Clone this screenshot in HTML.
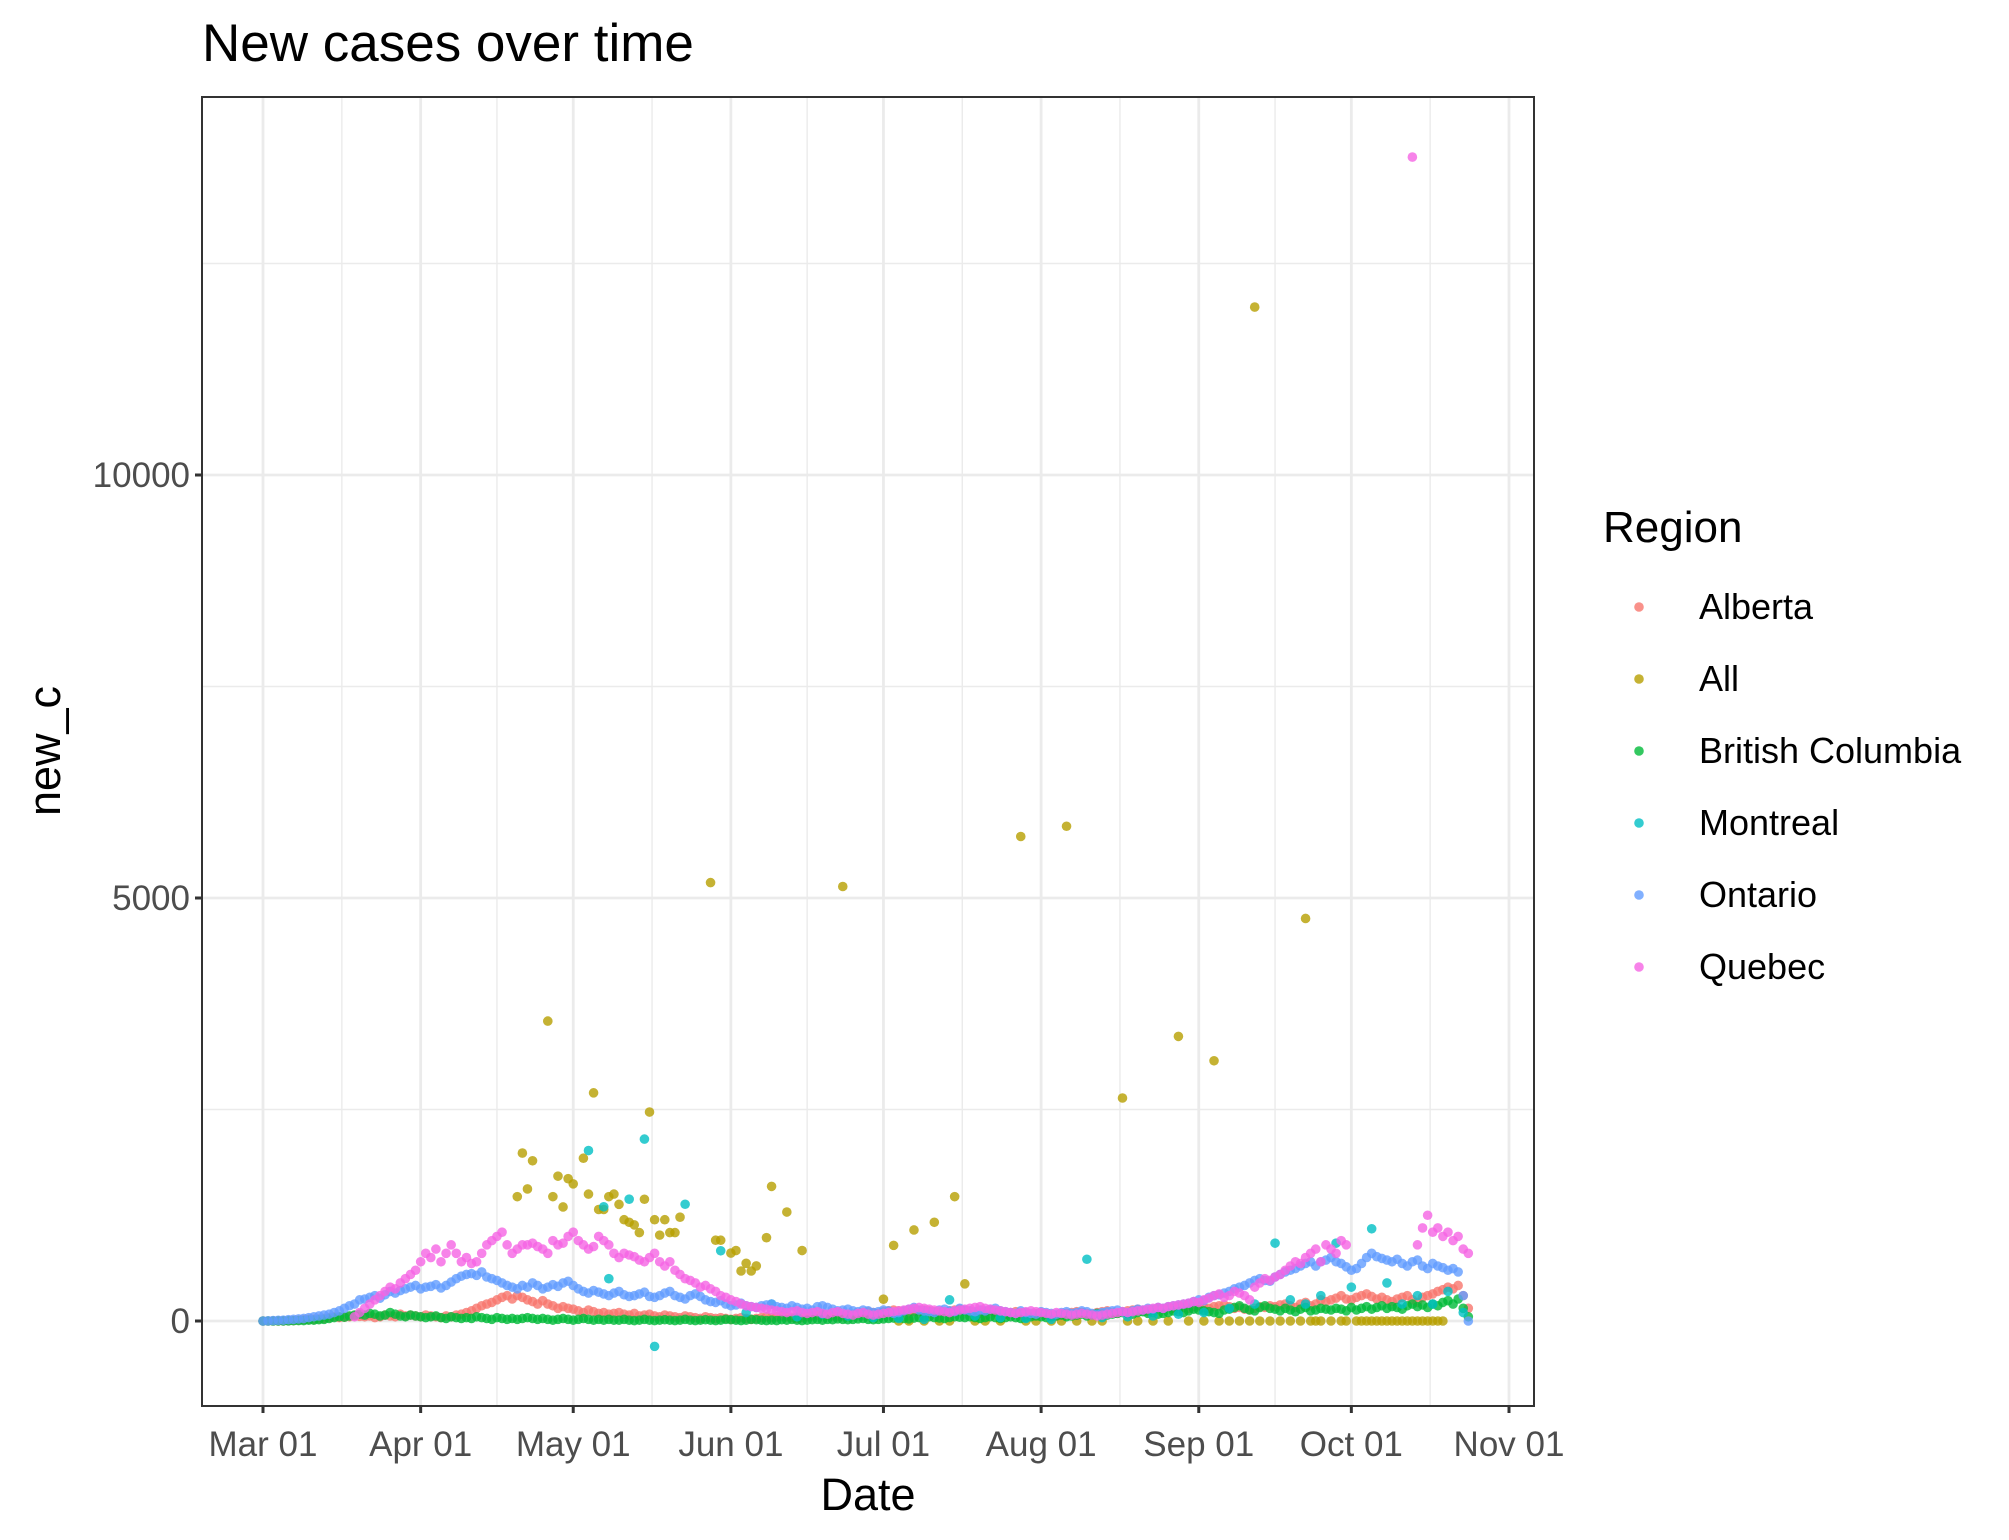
<!DOCTYPE html>
<html><head><meta charset="utf-8">
<style>
body{margin:0;background:#fff;}
svg{display:block;font-family:"Liberation Sans",Arial,sans-serif;}
</style></head>
<body>
<svg id="chart" width="2009" height="1540" viewBox="0 0 2009 1540">
<text x="202" y="61" font-size="53" fill="#000">New cases over time</text>
<g id="grid"></g>
<g id="pts"></g>
<rect x="202" y="97" width="1332" height="1309" fill="none" stroke="#333" stroke-width="2"/>
<g id="axes"></g>
<text x="868" y="1510" font-size="45" text-anchor="middle" fill="#000">Date</text>
<text transform="translate(60,751) rotate(-90)" font-size="45" text-anchor="middle" fill="#000">new_c</text>
<g id="legend">
<text x="1603" y="542" font-size="44" fill="#000">Region</text>
</g>
</svg>
<script>
const monthLabels=["Mar 01","Apr 01","May 01","Jun 01","Jul 01","Aug 01","Sep 01","Oct 01","Nov 01"];
const monthDays=[0,31,61,92,122,153,184,214,245];
const yTicks=[0,5000,10000];
const yMinor=[2500,7500,12500];
const regions=["Alberta","All","British Columbia","Montreal","Ontario","Quebec"];
const colors=["#F8766D","#B79F00","#00BA38","#00BFC4","#619CFF","#F564E3"];
const ontario=[0,2,5,8,10,15,20,25,30,40,50,60,70,80,100,120,150,180,200,250,260,280,300,270,310,350,330,360,380,400,420,380,400,410,430,390,420,460,500,530,550,560,540,580,520,500,480,450,420,400,380,420,400,450,420,380,400,430,410,450,470,420,380,350,330,360,340,320,300,330,350,310,290,300,320,340,290,280,300,330,350,300,280,260,300,320,290,250,230,220,240,200,180,190,210,180,170,160,180,190,200,170,160,150,180,160,140,150,130,170,180,160,140,120,130,140,120,110,130,120,100,110,130,120,90,100,120,140,160,130,120,110,100,130,140,120,110,150,130,120,110,130,120,140,150,120,110,100,90,120,100,90,80,110,100,90,80,100,110,90,100,120,110,90,80,100,110,120,130,110,100,120,140,130,150,140,160,150,170,180,190,200,210,230,250,240,280,300,310,330,350,380,400,420,450,480,500,480,470,520,550,580,600,620,650,680,700,650,700,720,750,700,680,640,600,620,680,750,800,760,740,720,700,730,680,650,700,720,650,620,680,650,630,600,620,580,300,0];
const quebecStart=18;
const quebec=[50,100,150,200,250,300,350,400,380,450,500,550,600,700,800,750,850,700,800,900,800,700,750,680,700,800,900,950,1000,1050,900,800,850,900,900,920,880,850,800,950,900,920,1000,1050,950,900,850,880,1000,950,900,800,750,800,780,760,720,700,750,800,700,650,700,600,550,500,480,450,400,420,380,350,300,280,250,230,200,180,170,160,150,140,130,120,110,100,110,120,100,90,100,110,90,80,100,110,90,80,70,90,100,80,70,80,90,100,110,120,130,140,150,160,150,140,130,120,110,100,120,130,140,150,160,170,150,140,130,120,110,100,90,100,110,120,110,100,90,80,100,90,80,70,80,90,80,70,60,70,80,90,100,110,100,110,120,130,140,150,160,150,170,180,190,200,210,230,220,250,270,300,320,280,300,350,330,300,250,400,450,500,480,520,550,600,650,700,680,750,800,850,700,900,850,800,950,900,null,null,null,null,null,null,null,null,null,null,null,null,13758,900,1100,1250,1050,1100,1000,1050,950,1000,850,800];
const alberta=[0,0,1,1,2,3,5,10,15,20,20,25,30,40,50,40,45,50,60,55,50,60,40,50,70,60,50,80,60,70,60,50,70,60,50,40,60,50,70,80,100,120,150,180,200,220,250,280,300,260,300,280,250,230,200,240,200,180,150,170,150,140,120,100,130,110,90,100,80,90,100,80,70,90,60,70,80,60,50,70,60,50,40,60,50,40,30,50,40,30,40,30,20,30,40,30,20,30,40,50,40,50,60,50,40,30,40,50,60,70,80,70,60,50,60,70,80,90,100,110,100,90,110,120,130,120,110,100,110,120,130,120,110,100,110,120,130,140,120,110,100,90,110,120,100,90,80,100,110,90,80,70,90,100,80,70,60,80,90,100,110,100,90,80,100,110,120,100,90,110,120,130,140,120,110,130,150,140,160,150,170,160,150,170,180,160,150,170,180,190,170,150,160,140,130,150,170,160,180,170,190,200,180,160,200,220,180,200,250,230,250,270,300,260,250,280,300,320,290,260,280,250,230,260,280,300,250,220,280,300,320,350,370,400,380,420,300,150];
const bc=[0,0,0,1,1,2,3,5,5,10,10,15,20,30,40,50,45,60,70,80,70,90,80,60,70,100,80,60,50,70,60,50,40,50,60,40,30,50,40,30,40,30,50,40,30,20,40,30,20,30,20,30,40,30,20,30,20,10,20,30,20,10,20,30,20,10,20,10,20,10,10,20,10,5,10,20,10,5,10,15,10,5,10,20,10,5,10,15,10,5,10,20,15,10,5,10,20,15,10,5,10,5,15,10,20,10,5,10,15,20,10,20,15,25,20,15,20,25,30,20,15,20,25,30,35,40,30,25,35,40,45,50,40,35,30,40,50,45,40,50,40,30,40,50,40,30,40,50,40,30,40,50,60,50,40,50,60,70,50,60,70,80,60,70,90,80,70,80,90,100,90,80,100,110,90,100,80,90,100,120,110,100,120,140,130,120,110,100,90,130,140,160,180,150,130,120,160,180,150,140,120,150,130,110,140,160,120,130,150,140,130,150,140,120,160,130,150,170,140,160,180,150,170,160,140,180,200,170,190,160,200,180,220,240,200,260,150,50];
const montrealDays=[64,67,68,72,75,77,83,90,95,100,105,110,115,120,125,130,135,140,145,150,155,162,165,170,175,180,185,190,195,199,202,205,208,211,214,218,221,224,227,230,233,236];
const montrealVals=[2015,1350,500,1440,2150,-300,1380,830,100,200,50,80,60,40,30,20,250,60,40,30,20,730,40,50,60,80,100,150,200,920,250,200,300,920,400,1090,450,200,300,200,350,100];
const allDays=[51,53,50,52,56,57,58,59,60,61,63,64,65,66,67,68,69,70,71,72,73,74,75,76,77,78,79,80,81,82,88,89,90,92,93,94,95,96,97,99,100,103,106,114,122,124,128,132,136,138,149,158,169,180,187,195,205,125,127,130,133,135,140,142,145,150,152,155,157,160,163,165,170,172,175,178,182,185,188,190,192,194,196,198,200,202,204,206,207,208,210,212,213,215,216,217,218,219,220,221,222,223,224,225,226,227,228,229,230,231,232];
const allVals=[1985,1894,1470,1561,3545,1470,1712,1348,1682,1621,1924,1500,2697,1318,1318,1470,1500,1379,1197,1167,1136,1045,1439,2470,1197,1015,1197,1045,1045,1227,5182,955,955,803,833,591,682,591,651,985,1591,1288,833,5136,258,894,1076,1167,1470,439,5727,5848,2636,3364,3076,11985,4758,0,0,0,0,0,0,0,0,0,0,0,0,0,0,0,0,0,0,0,0,0,0,0,0,0,0,0,0,0,0,0,0,0,0,0,0,0,0,0,0,0,0,0,0,0,0,0,0,0,0,0,0,0,0];

const X0=202,X1=1534,Y0=97,Y1=1406;
const xDay=d=>263+d*(1509-263)/245;
const yVal=v=>1321-v*(1321-475)/10000;
const NS="http://www.w3.org/2000/svg";
function mk(tag,attrs,parent){const e=document.createElementNS(NS,tag);for(const k in attrs)e.setAttribute(k,attrs[k]);parent.appendChild(e);return e;}
const grid=document.getElementById('grid'),pts=document.getElementById('pts'),axes=document.getElementById('axes'),legend=document.getElementById('legend');
let bg=mk('rect',{x:X0,y:Y0,width:X1-X0,height:Y1-Y0,fill:'#fff'},grid);


yMinor.forEach(v=>{const l=mk('line',{x1:X0,x2:X1,y1:yVal(v),y2:yVal(v),stroke:'#EBEBEB','stroke-width':1.4},grid);

});
for(let i=0;i<monthDays.length-1;i++){const d=(monthDays[i]+monthDays[i+1])/2;const l=mk('line',{x1:xDay(d),x2:xDay(d),y1:Y0,y2:Y1,stroke:'#EBEBEB','stroke-width':1.4},grid);

}
yTicks.forEach(v=>{const y=yVal(v);const l=mk('line',{x1:X0,x2:X1,y1:y,y2:y,stroke:'#EBEBEB','stroke-width':2.8},grid);


const t=mk('line',{x1:X0-7,x2:X0,y1:y,y2:y,stroke:'#333','stroke-width':3},axes);


const tx=mk('text',{x:X0-12,y:y+12,'font-size':35,'text-anchor':'end',fill:'#4D4D4D'},axes);tx.textContent=v;

});
monthDays.forEach((d,i)=>{const x=xDay(d);const l=mk('line',{x1:x,x2:x,y1:Y0,y2:Y1,stroke:'#EBEBEB','stroke-width':2.8},grid);


const t=mk('line',{x1:x,x2:x,y1:Y1,y2:Y1+7,stroke:'#333','stroke-width':3},axes);


const tx=mk('text',{x:x,y:1456,'font-size':35,'text-anchor':'middle',fill:'#4D4D4D'},axes);tx.textContent=monthLabels[i];

});
function dot(d,v,c,name){if(v===null)return;const e=mk('circle',{cx:xDay(d),cy:yVal(v),r:4.8,fill:c,'fill-opacity':0.8},pts);

}
alberta.forEach((v,i)=>dot(i,v,colors[0],'point-alberta'));
allDays.forEach((d,i)=>dot(d,allVals[i],colors[1],'point-all'));
bc.forEach((v,i)=>dot(i,v,colors[2],'point-british-columbia'));
montrealDays.forEach((d,i)=>dot(d,montrealVals[i],colors[3],'point-montreal'));
ontario.forEach((v,i)=>dot(i,v,colors[4],'point-ontario'));
quebec.forEach((v,i)=>dot(i+quebecStart,v,colors[5],'point-quebec'));
regions.forEach((r,i)=>{const y=607+i*72;
const c=mk('circle',{cx:1639,cy:y,r:4.8,fill:colors[i],'fill-opacity':0.8},legend);


const t=mk('text',{x:1699,y:y+12,'font-size':36,fill:'#000'},legend);t.textContent=r;

});
</script>
</body></html>
